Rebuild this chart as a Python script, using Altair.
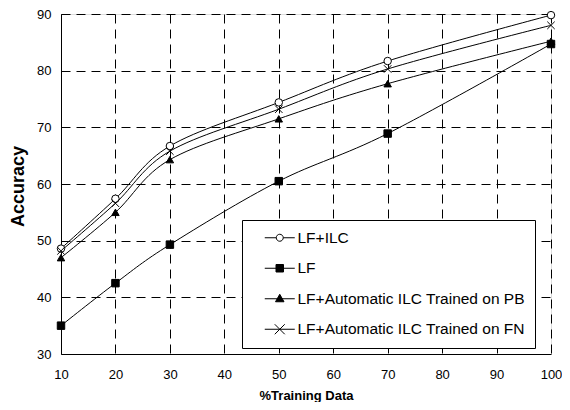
import altair as alt
import pandas as pd

x_vals = [10, 20, 30, 50, 70, 100]
series_names = ["LF+ILC", "LF", "LF+Automatic ILC Trained on PB", "LF+Automatic ILC Trained on FN"]
lf_ilc = [48.6, 57.4, 66.7, 74.4, 81.7, 89.8]
lf = [35.0, 42.5, 49.3, 60.5, 68.9, 84.7]
lf_auto_pb = [47.0, 55.0, 64.3, 71.5, 77.7, 85.2]
lf_auto_fn = [48.2, 56.6, 65.8, 73.2, 80.3, 88.0]
x_ticks = [10, 20, 30, 40, 50, 60, 70, 80, 90, 100]
y_ticks = [30, 40, 50, 60, 70, 80, 90]

rows = []
for name, vals in zip(series_names, [lf_ilc, lf, lf_auto_pb, lf_auto_fn]):
    for xv, yv in zip(x_vals, vals):
        rows.append({"series": name, "x": xv, "y": yv})
df = pd.DataFrame(rows)

FONT = "Liberation Sans"

point_shapes = ["circle", "square", "triangle-up", "M-1,-1L1,1M-1,1L1,-1"]
point_fills = ["white", "black", "black", "transparent"]
point_sizes = [56, 55, 60, 100]
legend_strokes = ["black", "black", "black", "black"]
legend_shapes = [
    "M-3,0H-0.7M0.7,0H3M-0.7,0A0.7,0.7 0 1,0 0.7,0A0.7,0.7 0 1,0 -0.7,0",
    "M-3,0H3M-0.75,-0.75H0.75V0.75H-0.75Z",
    "M-3,0H3M0,-0.9L0.85,0.6H-0.85Z",
    "M-3,0H3M-1,-1L1,1M-1,1L1,-1",
]

x_enc = alt.X(
    "x:Q",
    scale=alt.Scale(domain=[10, 100], nice=False, zero=False),
    axis=alt.Axis(
        values=x_ticks, title="%Training Data", grid=True, ticks=False,
        labelPadding=14, labelFlush=False, labelFontSize=13, labelFont=FONT,
        labelColor="black", titleFont=FONT, titleFontSize=13, titleFontWeight="bold",
        titleColor="black", titleY=45, titleBaseline="alphabetic",
        gridDash=[9, 6], gridColor="black", gridOpacity=1, domainColor="black",
    ),
)
y_enc = alt.Y(
    "y:Q",
    scale=alt.Scale(domain=[30, 90], nice=False, zero=False),
    axis=alt.Axis(
        values=y_ticks, title="Accuracy", grid=True, ticks=False,
        labelPadding=10, labelFlush=False, labelFontSize=13, labelFont=FONT,
        labelColor="black", titleFont=FONT, titleFontSize=18, titleFontWeight="bold",
        titleColor="black", titleX=-43, titleY=172, titleAlign="center",
        titleBaseline="middle", titleAngle=270,
        gridDash=[9, 6], gridColor="black", gridOpacity=1, domainColor="black",
    ),
)

base = alt.Chart(df)

lines = base.mark_line(color="black", strokeWidth=1, interpolate="cardinal").encode(
    x=x_enc, y=y_enc, detail="series:N", order="x:Q"
)

points = base.mark_point(filled=True, stroke="black", strokeWidth=1, opacity=1).encode(
    x="x:Q",
    y="y:Q",
    shape=alt.Shape("series:N", scale=alt.Scale(domain=series_names, range=point_shapes), legend=None),
    fill=alt.Fill("series:N", scale=alt.Scale(domain=series_names, range=point_fills), legend=None),
    size=alt.Size("series:N", scale=alt.Scale(domain=series_names, range=point_sizes), legend=None),
)

leg = alt.Legend(
    title=None, orient="none", legendX=181, legendY=206, padding=10,
    rowPadding=13.5, symbolOffset=20, labelOffset=10, labelFont=FONT,
    labelFontSize=15.5, labelColor="black", labelLimit=400, symbolSize=100,
    symbolStrokeColor="black", symbolStrokeWidth=1,
    labelExpr="datum.label + '\u00a0\u00a0'",
    strokeColor="black", fillColor="white", cornerRadius=0,
)

legend_layer = base.transform_filter("datum.x < 0").mark_point(
    filled=True, stroke="black", strokeWidth=1, size=100, opacity=1
).encode(
    shape=alt.Shape("series:N", scale=alt.Scale(domain=series_names, range=legend_shapes), legend=leg),
    fill=alt.Fill("series:N", scale=alt.Scale(domain=series_names, range=point_fills), legend=leg),
    stroke=alt.Stroke("series:N", scale=alt.Scale(domain=series_names, range=legend_strokes), legend=leg),
)

chart = alt.layer(lines, points, legend_layer).resolve_scale(
    shape="independent", fill="independent", size="independent", stroke="independent"
).properties(
    width=490, height=340,
    autosize=alt.AutoSizeParams(type="none"),
    padding={"left": 53, "top": 6, "right": 11, "bottom": 48},
).configure_view(stroke="black", strokeWidth=1).configure(background="white")

chart.save("out.html", embed_options={"renderer": "svg", "actions": False})
